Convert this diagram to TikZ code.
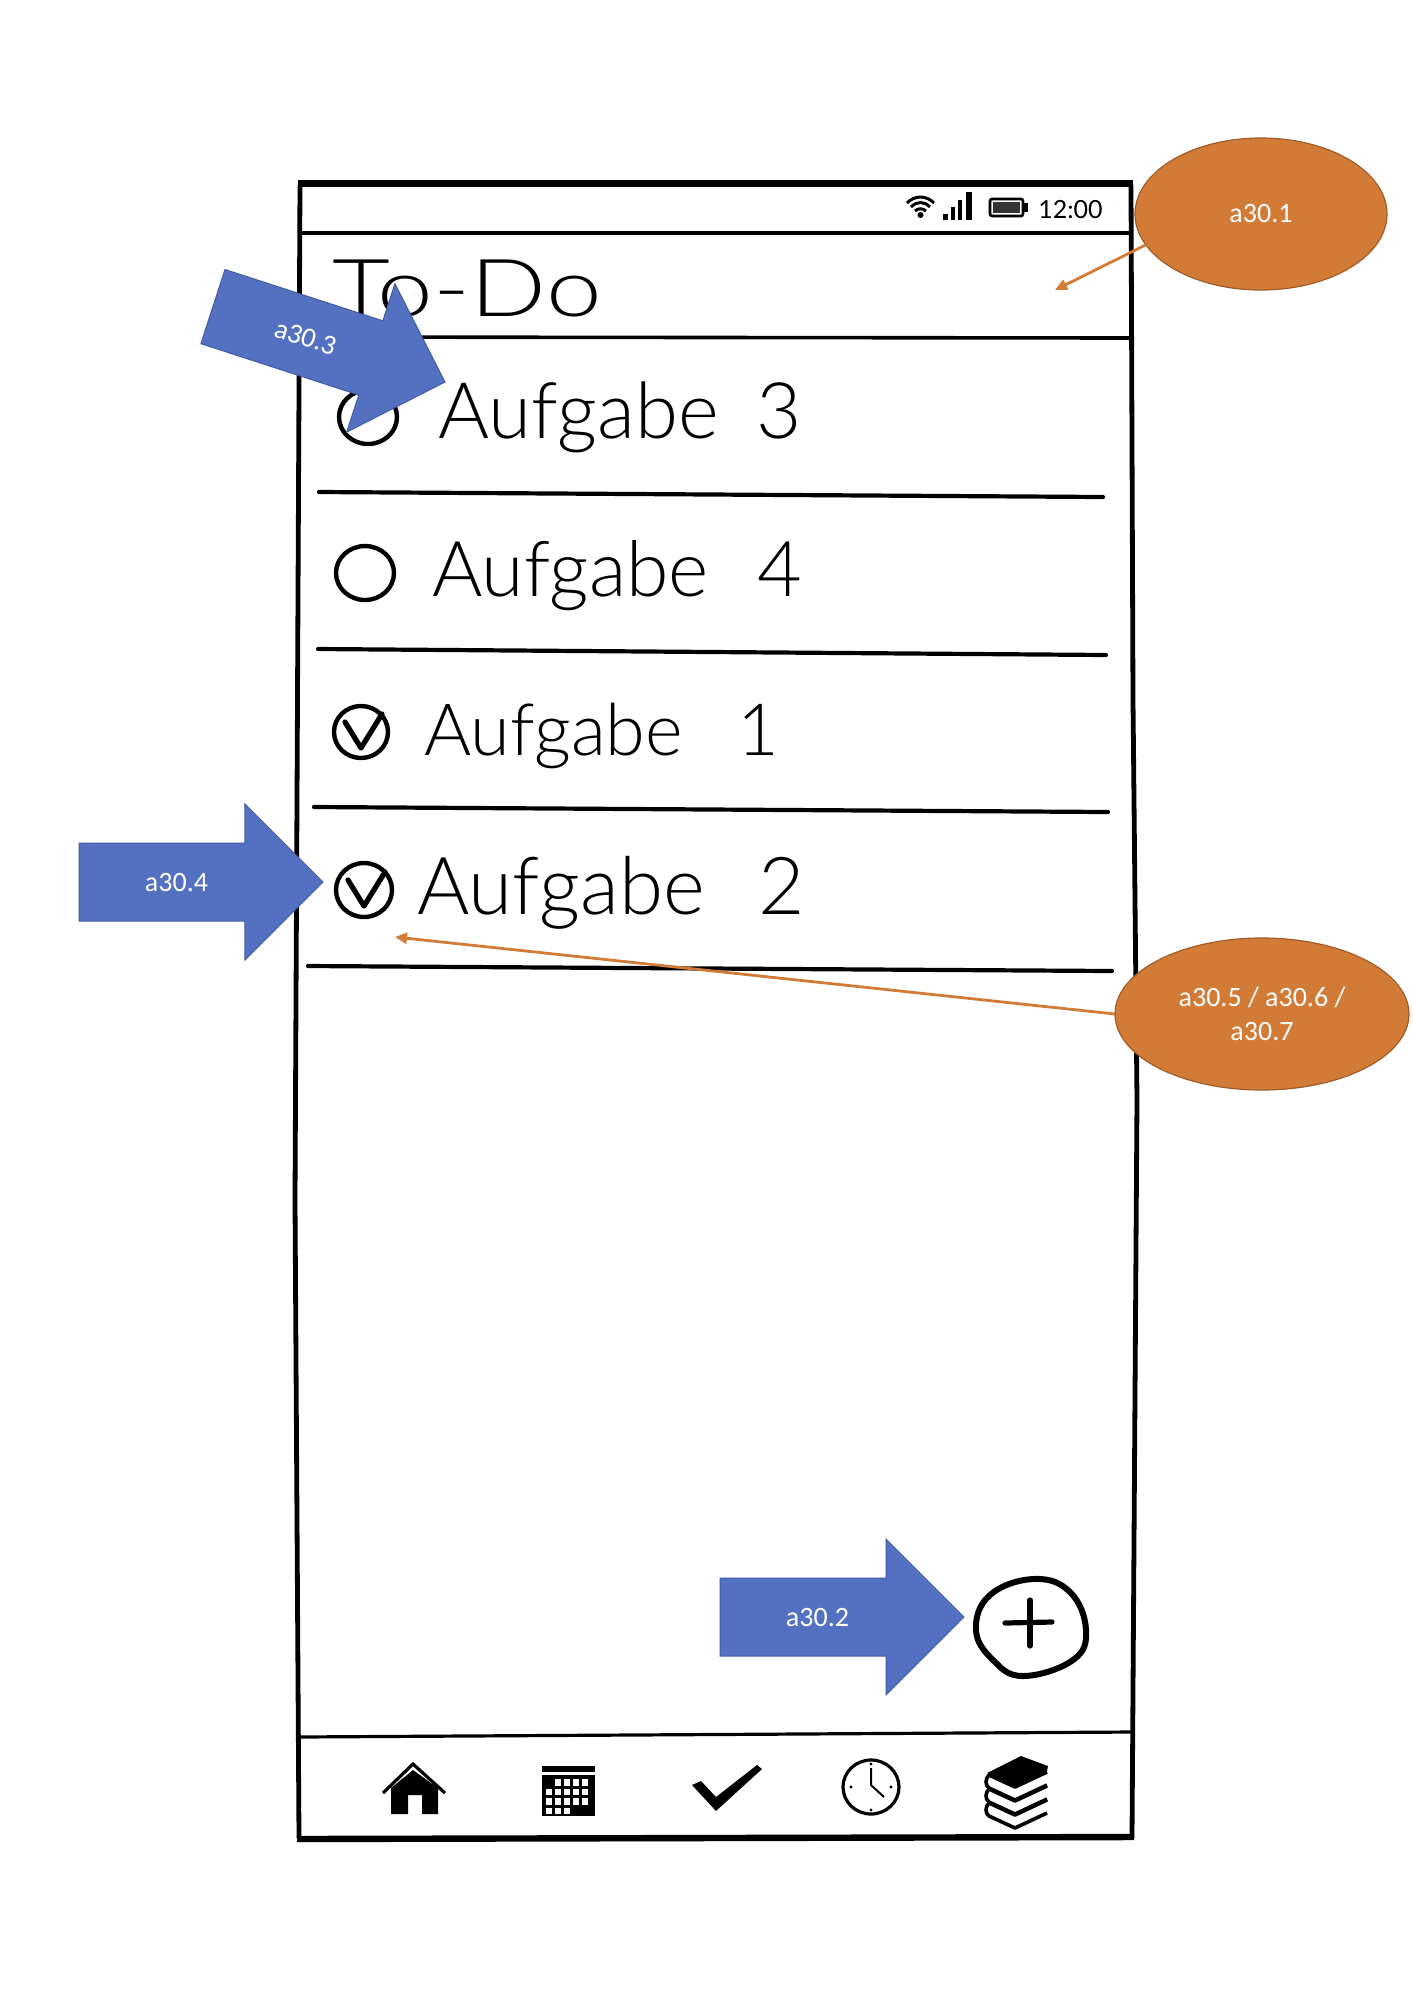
\documentclass[tikz,border=0pt]{standalone}
\usepackage{fontspec}
\setmainfont{Carlito}
\newfontfamily\handfont{Lato Light}
\newfontfamily\titlefont[FakeStretch=1.25]{Lato Light}
\newfontfamily\clockfont{Lato}
\usetikzlibrary{arrows.meta, positioning, shapes.geometric, shapes.arrows}
\definecolor{noteblue}{RGB}{84,112,192}
\definecolor{noteblueline}{RGB}{64,92,165}
\definecolor{noteorange}{RGB}{210,123,55}
\definecolor{noteorangeline}{RGB}{160,92,40}

\begin{document}
\begin{tikzpicture}[
    x=0.5pt, y=-0.5pt,
    bluearrow/.style={single arrow, single arrow head extend=19.5pt,
                single arrow tip angle=90, minimum height=122pt, text height=24pt, text depth=14.5pt,
                inner sep=0pt, outer sep=0pt, anchor=tip, draw=noteblueline, fill=noteblue,
                line width=0.5pt, text=white, font=\fontsize{14}{17}\selectfont,
                execute at end node={\hspace{5pt}}},
    note/.style={ellipse, draw=noteorangeline, fill=noteorange, inner sep=0pt, outer sep=0pt,
                line width=0.6pt, minimum height=76pt, text=white, align=center,
                font=\fontsize{14}{17}\selectfont},
    pointer/.style={-{Triangle[length=6pt, width=5.5pt]}, line width=1.4pt, noteorange},
    hand/.style={anchor=base west, inner sep=0pt, font=\handfont\fontsize{#1}{44}\selectfont},
    rule/.style={line width=2.1pt, line cap=round},
    frameline/.style={line width=2.4pt},
    tick/.style={line width=2.2pt, line cap=round, line join=round},
    icon/.style={fill=black, draw=none}]
    \useasboundingbox (0,0) rectangle (1413,1999);

    \draw[frameline] (300,185) -- (297,800) -- (295,1200) -- (299,1838);
    \draw[frameline] (1131,185) -- (1133,700) -- (1137,1100) -- (1132,1838);
    \draw[line width=3.5pt] (298,183) -- (1133,183);
    \draw[line width=3.2pt] (297,1839) -- (1134,1837);
    \draw[line width=2pt] (298,233) -- (1131,233);
    \draw[line width=1.8pt] (298,337) -- (1131,338);
    \draw[line width=1.6pt] (298,1737) -- (1133,1732);

    \draw[rule] (319,492) -- (1103,497);
    \draw[rule] (318,649) -- (1106,655);
    \draw[rule] (314,807) -- (1108,812);
    \draw[rule] (308,966) -- (1112,971);

    \fill (920.5,215) circle (1.5pt);
    \draw[line width=1.5pt] (907,203) .. controls (915,195) and (926,195) .. (934,203);
    \draw[line width=1.5pt] (911,207) .. controls (917,201) and (924,201) .. (930,207);
    \draw[line width=1.5pt] (915,211) .. controls (918,208) and (923,208) .. (926,211);
    \fill (943,214) rectangle (948,220);
    \fill (951,207) rectangle (955,220);
    \fill (958,200) rectangle (962,220);
    \fill (966,192) rectangle (972,220);
    \draw[line width=1.3pt, rounded corners=1pt] (990,199) rectangle (1023,216);
    \fill[black!80] (993,202) rectangle (1020,213);
    \fill (1024,203) rectangle (1028,212);
    \node[inner sep=0pt, anchor=base west, font=\clockfont\fontsize{12.5}{14}\selectfont] (clock) at (1038,218) {12:00};

    \node[anchor=base west, inner sep=0pt, font=\titlefont\fontsize{40}{44}\selectfont] (title) at (332,316) {To-Do};
    \node[hand=39] (t3) at (438,438) {Aufgabe\hspace{19pt}3};
    \node[hand=38.5] (t4) at (432,596) {Aufgabe\hspace{24pt}4};
    \node[hand=36] (t1) at (424,755) {Aufgabe\hspace{27pt}1};
    \node[hand=40] (t2) at (417,914) {Aufgabe\hspace{27pt}2};

    \draw[tick] (368,417) ellipse (29 and 27);
    \draw[tick] (365,573) ellipse (29 and 27);
    \draw[tick] (361,732) ellipse (27 and 26);
    \draw[tick] (364,890) ellipse (28 and 27);
    \draw[tick, line width=2.6pt] (345,722) -- (361,748) -- (382,714);
    \draw[tick, line width=2.6pt] (348,880) -- (364,906) -- (385,872);

    \node[bluearrow] (a3) at (964,1617) {a30.2};
    \node[bluearrow] (a4) at (323,882) {a30.4};
    \node[bluearrow, rotate=-18] (a5) at (445,382) {a30.3};

    \node[note, minimum width=126pt] (note1) at (1261,214) {a30.1};
    \node[note, minimum width=147pt] (note5) at (1262,1014) {a30.5 / a30.6 /\\a30.7};
    \coordinate (tip1) at (1055,290);
    \coordinate (tip5) at (395,937);
    \draw[pointer] (note1.195) -- (tip1);
    \draw[pointer] (note5.west) -- (tip5);

    \draw[line width=3pt] plot[smooth cycle, tension=0.7] coordinates {(1034,1579) (1070,1592) (1086,1630)
        (1073,1660) (1023,1676) (993,1660) (976,1630) (990,1595)};
    \draw[line width=2.6pt, line cap=round] (1005,1623) -- (1052,1622);
    \draw[line width=2.6pt, line cap=round] (1030,1600) -- (1030,1646);

    \draw[line width=1.6pt, miter limit=10] (383,1793) -- (413,1764) -- (445,1793);
    \fill[icon] (391,1814) -- (391,1788) -- (413,1770) -- (438,1788) -- (438,1814)
        -- (422,1814) -- (422,1795) -- (408,1795) -- (408,1814) -- cycle;

    \fill[icon] (542,1766) rectangle (595,1772);
    \fill[icon] (542,1775) rectangle (595,1816);
    \foreach \row/\first/\last in {0/1/4, 1/0/4, 2/0/4, 3/0/2} {
        \foreach \col in {\first,...,\last} {
            \fill[white] (546+\col*9,1779+\row*9.5) rectangle +(6,6.5);
        }
    }

    \fill[icon] (692,1785) -- (701,1781) -- (716,1797) -- (757,1765) -- (762,1769) -- (716,1811) -- cycle;

    \draw[line width=1.6pt] (871,1787) ellipse (28 and 27);
    \draw[line width=1pt] (871,1768) -- (871,1785) -- (884,1797);
    \fill (871,1764) circle (0.8pt);
    \fill (871,1810) circle (0.8pt);
    \fill (851,1787) circle (0.8pt);
    \fill (891,1787) circle (0.8pt);

    \fill[icon] (1021,1756) -- (1048,1766) -- (1047,1771) -- (1015,1786) -- (987,1773) -- cycle;
    \foreach \dy in {0,14,28} {
        \draw[line width=1.8pt, line join=round] (1047,1772+\dy) -- (1015,1787+\dy) -- (989,1775+\dy)
            .. controls (985,1779+\dy) and (985,1785+\dy) .. (989,1788+\dy) -- (1015,1800+\dy) -- (1047,1785+\dy);
    }
\end{tikzpicture}
\end{document}
